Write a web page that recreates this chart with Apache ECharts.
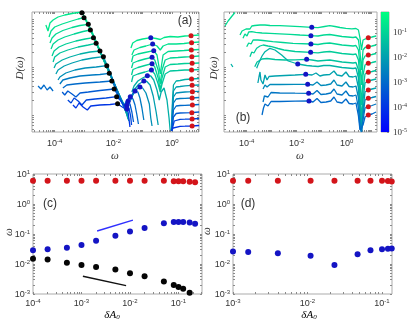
<!DOCTYPE html>
<html>
<head>
<meta charset="utf-8">
<script src="https://cdn.jsdelivr.net/npm/echarts@6/dist/echarts.min.js"></script>
<style>
html, body { margin: 0; padding: 0; background: #fff; }
#main { width: 415px; height: 323px; }
</style>
</head>
<body>
<div id="main"></div>
<script>
// ---- panel (a): spectra D(omega), [omega, level]; level = log D with a per-curve offset (no units shown)
var specA0 = [[5.0e-5,10.7],[5.9e-5,10.1],[6.9e-5,10.9],[8.8e-5,11.2],[1.3e-4,11.5],[2.2e-4,11.7],[3.9e-4,11.85],[6.3e-4,11.95],[8.5e-4,11.93],[1.2e-3,11.2],[1.6e-3,10.3],[2.6e-3,9.0],[4.5e-3,7.4],[7.8e-3,5.8],[1.35e-2,4.2],[2.0e-2,3.1],[2.7e-2,2.1],null,[4.0e-2,8.4],[4.6e-2,8.9],[6.3e-2,9.15],[0.1,9.3],[0.19,9.43],[0.29,9.35],[0.40,9.25],[0.54,9.45],[0.87,9.55],[1.6,9.5],[2.8,9.6],[4.5,9.63],[8.5,9.7]];
var specA1 = [[6.4e-5,9.5],[7.5e-5,10.1],[1.0e-4,10.5],[1.8e-4,10.8],[3.3e-4,11.05],[6.3e-4,11.3],[1.0e-3,11.43],[1.4e-3,10.7],[2.0e-3,9.7],[3.5e-3,8.1],[6.1e-3,6.5],[1.05e-2,4.8],[1.7e-2,3.5],[2.5e-2,2.6],[2.9e-2,1.9],null,[4.3e-2,7.7],[5.1e-2,8.2],[8.1e-2,8.45],[0.13,8.6],[0.22,8.8],[0.31,8.6],[0.40,8.2],[0.50,8.6],[0.74,8.8],[1.4,8.8],[2.6,8.85],[4.6,8.93],[8.5,9.0]];
var specA2 = [[6.9e-5,8.9],[8.1e-5,9.4],[1.1e-4,9.8],[1.9e-4,10.15],[3.9e-4,10.45],[7.3e-4,10.65],[1.4e-3,10.77],[1.9e-3,10.0],[3.0e-3,8.6],[5.2e-3,7.0],[9.1e-3,5.3],[1.5e-2,3.8],[2.1e-2,2.8],[2.9e-2,1.8],null,[4.2e-2,7.0],[4.7e-2,7.6],[6.9e-2,7.8],[0.12,7.95],[0.24,8.13],[0.31,7.7],[0.40,5.8],[0.50,7.7],[0.74,8.05],[1.4,8.1],[2.6,8.15],[4.6,8.2],[8.5,8.25]];
var specA3 = [[7.5e-5,8.3],[8.8e-5,8.8],[1.3e-4,9.2],[2.2e-4,9.5],[4.6e-4,9.8],[9.3e-4,10.05],[1.65e-3,10.2],[2.4e-3,9.2],[3.8e-3,7.8],[6.6e-3,6.2],[1.15e-2,4.6],[1.7e-2,3.4],[2.5e-2,2.4],[3.2e-2,1.6],null,[4.2e-2,6.4],[4.7e-2,6.9],[6.9e-2,7.1],[0.12,7.3],[0.21,7.47],[0.26,7.2],[0.34,6.2],[0.40,4.8],[0.46,6.2],[0.59,7.2],[0.87,7.4],[1.6,7.45],[2.75,7.5],[4.6,7.53],[8.5,7.6]];
var specA4 = [[8.1e-5,7.6],[9.5e-5,8.1],[1.4e-4,8.5],[2.4e-4,8.8],[5.3e-4,9.1],[1.1e-3,9.3],[2.1e-3,9.43],[3.0e-3,8.5],[4.8e-3,7.1],[7.8e-3,5.8],[1.2e-2,4.3],[1.8e-2,3.2],[2.5e-2,2.4],[3.2e-2,1.5],null,[4.2e-2,5.7],[4.7e-2,6.25],[6.9e-2,6.45],[0.12,6.65],[0.21,6.83],[0.26,6.5],[0.34,5.4],[0.40,4.2],[0.46,5.4],[0.59,6.5],[0.87,6.75],[1.6,6.8],[2.75,6.85],[4.6,6.87],[8.5,6.9]];
var specA5 = [[8.8e-5,7.0],[1.0e-4,7.5],[1.5e-4,7.9],[2.8e-4,8.2],[6.3e-4,8.5],[1.4e-3,8.7],[2.6e-3,8.87],[3.8e-3,7.8],[5.7e-3,6.6],[9.1e-3,5.3],[1.35e-2,4.0],[2.0e-2,3.0],[2.7e-2,2.2],[3.2e-2,1.4],null,[4.2e-2,5.0],[4.7e-2,5.6],[6.9e-2,5.8],[0.12,6.0],[0.20,6.2],[0.26,5.8],[0.34,4.8],[0.40,4.0],[0.46,4.8],[0.59,5.8],[0.87,6.1],[1.6,6.15],[2.75,6.2],[4.6,6.2],[8.5,6.25]];
var specA6 = [[9.5e-5,6.4],[1.1e-4,6.8],[1.8e-4,7.2],[3.3e-4,7.5],[7.3e-4,7.8],[1.6e-3,8.0],[3.5e-3,8.1],[4.8e-3,7.2],[7.1e-3,6.1],[1.05e-2,4.9],[1.55e-2,3.7],[2.1e-2,2.8],[2.7e-2,2.0],[3.2e-2,1.3],null,[4.3e-2,4.0],[5.1e-2,4.6],[6.9e-2,5.1],[0.1,5.4],[0.145,5.63],[0.19,5.6],[0.24,5.2],[0.31,4.2],[0.37,3.2],[0.43,4.0],[0.54,4.4],[0.68,3.2],[0.80,1.4],[0.87,0.2],null,[0.97,0.1],[1.05,3.2],[1.13,4.7],[1.4,5.1],[1.9,5.15],[2.8,5.25],[4.6,5.3],[8.5,5.35]];
var specA7 = [[1.1e-4,5.8],[1.3e-4,6.2],[2.1e-4,6.6],[3.9e-4,6.9],[8.5e-4,7.2],[2.0e-3,7.4],[4.6e-3,7.53],[6.1e-3,6.7],[8.4e-3,5.7],[1.2e-2,4.4],[1.7e-2,3.4],[2.3e-2,2.6],[2.9e-2,1.8],[3.4e-2,1.1],null,[4.0e-2,3.2],[5.1e-2,4.2],[7.5e-2,4.8],[0.11,5.1],[0.14,5.05],[0.18,4.7],[0.23,3.6],[0.29,2.0],[0.34,0.7],null,[0.97,0.1],[1.05,2.7],[1.13,4.1],[1.4,4.5],[1.9,4.55],[2.8,4.62],[4.6,4.67],[8.5,4.7]];
var specA8 = [[1.3e-4,5.2],[1.5e-4,5.5],[2.4e-4,5.9],[4.9e-4,6.2],[1.1e-3,6.4],[2.6e-3,6.5],[6.0e-3,6.63],[7.8e-3,5.9],[1.05e-2,4.9],[1.5e-2,3.9],[2.0e-2,3.1],[2.5e-2,2.5],[2.9e-2,2.0],[3.7e-2,3.2],[5.1e-2,3.9],[6.4e-2,4.3],[8.1e-2,4.5],[0.1,4.4],[0.13,3.9],[0.17,2.8],[0.19,1.4],[0.21,0.6],null,[0.97,0.1],[1.05,2.2],[1.13,3.5],[1.4,3.9],[1.9,3.95],[2.8,4.0],[4.6,4.03],[8.5,4.07]];
var specA9 = [[1.5e-4,4.8],[1.9e-4,5.2],[3.3e-4,5.4],[7.3e-4,5.6],[1.9e-3,5.7],[3.5e-3,5.75],[7.3e-3,5.87],[9.8e-3,5.2],[1.35e-2,4.2],[1.8e-2,3.3],[2.3e-2,2.6],[2.7e-2,2.1],[3.4e-2,2.9],[4.3e-2,3.7],[5.5e-2,4.1],[6.9e-2,4.0],[8.1e-2,3.4],[9.5e-2,2.4],[0.11,1.2],null,[0.97,0.1],[1.05,1.7],[1.13,2.9],[1.4,3.3],[1.9,3.35],[2.8,3.37],[4.6,3.4],[8.5,3.45]];
var specA10 = [[2.7e-5,4.6],[3.4e-5,4.3],[4.3e-5,4.7],[5.5e-5,4.2],[6.9e-5,4.5],[8.8e-5,4.1],null,[1.9e-4,4.4],[2.6e-4,4.7],[4.9e-4,4.8],[1.1e-3,4.9],[3.5e-3,5.0],[8.9e-3,5.1],[1.15e-2,4.5],[1.55e-2,3.6],[2.0e-2,3.0],[2.3e-2,2.6],[2.9e-2,3.2],[3.8e-2,3.53],[4.7e-2,3.3],[5.5e-2,2.7],[6.4e-2,1.7],[7.2e-2,0.8],null,[0.97,0.1],[1.05,1.2],[1.13,2.2],[1.4,2.6],[1.9,2.65],[2.8,2.67],[4.6,2.7],[8.5,2.75]];
var specA11 = [[1.8e-4,4.0],[2.2e-4,3.7],[2.8e-4,4.1],[3.9e-4,3.8],[5.3e-4,3.5],[7.3e-4,3.9],[1.4e-3,4.0],[3.5e-3,4.15],[1.07e-2,4.3],[1.35e-2,3.8],[1.7e-2,3.3],[2.0e-2,2.9],[2.3e-2,2.6],[2.7e-2,2.9],[3.2e-2,3.07],[3.7e-2,2.8],[4.3e-2,2.0],[4.9e-2,1.0],null,[0.97,0.1],[1.05,0.7],[1.13,1.5],[1.4,1.85],[1.9,1.9],[2.8,1.92],[4.6,1.93],[8.5,2.0]];
var specA12 = [[2.8e-4,3.2],[3.6e-4,2.9],[4.6e-4,3.4],[6.3e-4,3.1],[8.5e-4,2.7],[1.2e-3,3.2],[2.4e-3,3.3],[5.7e-3,3.4],[1.3e-2,3.53],[1.7e-2,3.2],[2.1e-2,2.8],[2.5e-2,2.5],[2.9e-2,2.67],[3.4e-2,2.4],[3.9e-2,1.6],[4.2e-2,0.7],null,[0.97,0.1],[1.05,0.4],[1.2,1.1],[1.4,1.25],[1.9,1.27],[2.8,1.28],[4.6,1.3],[8.5,1.35]];
var specA13 = [[4.2e-4,2.7],[5.3e-4,2.4],[6.8e-4,2.9],[9.3e-4,2.5],[1.3e-3,2.2],[1.7e-3,2.6],[3.5e-3,2.7],[7.8e-3,2.75],[1.4e-2,2.83],[1.8e-2,2.6],[2.3e-2,2.4],[2.9e-2,2.3],[3.2e-2,2.0],[3.4e-2,1.4],[3.7e-2,0.5],null,[0.97,0.1],[1.1,0.4],[1.28,0.55],[1.9,0.57],[2.8,0.58],[4.6,0.6],[8.5,0.65]];

var blackA = [[8.5e-4,11.93],[1.0e-3,11.43],[1.4e-3,10.77],[1.65e-3,10.2],[2.1e-3,9.43],[2.6e-3,8.87],[3.5e-3,8.1],[4.6e-3,7.53],[6.0e-3,6.63],[7.3e-3,5.87],[8.9e-3,5.1],[1.07e-2,4.3],[1.3e-2,3.53],[1.4e-2,2.83]];
var blueA = [[0.19,9.43],[0.22,8.8],[0.24,8.13],[0.21,7.47],[0.21,6.83],[0.20,6.2],[0.145,5.63],[0.11,5.1],[0.081,4.5],[0.055,4.1],[0.038,3.53],[0.032,3.07],[0.029,2.67],[0.029,2.3]];
var redA = [[4.5,9.63],[4.7,8.93],[4.6,8.2],[4.8,7.53],[4.9,6.87],[4.7,6.2],[4.7,5.3],[4.9,4.67],[5.0,4.03],[4.9,3.4],[5.0,2.7],[4.8,1.93],[4.9,1.3],[4.9,0.6]];

// ---- panel (b)
var specB0 = [[1.35e-5,10.6],[1.8e-5,11.1],[2.6e-5,11.6],[3.4e-5,11.95],null,[5.4e-5,9.7],[6.5e-5,10.1],[7.8e-5,9.9],[9.4e-5,10.3],[1.1e-4,10.5],[1.35e-4,10.3],[1.6e-4,10.6],[2.1e-4,10.65],[3.4e-4,10.7],[5.4e-4,10.7],[8.5e-4,10.65],[2.1e-3,10.63],[5.4e-3,10.58],[1.35e-2,10.53],[4.0e-2,10.47],[7.1e-2,10.43],[0.13,10.55],[0.21,10.63],[0.34,10.55],[0.54,10.45],[0.93,10.37],[1.6,10.32],[2.35,10.35],[2.95,10.2],[3.4,9.4],[3.9,8.2],[4.5,9.2],[5.4,9.35],[7.3,9.43],[10.3,9.5],[15,9.6]];
var specB1 = [[7.1e-5,9.37],[8.5e-5,9.8],[1.03e-4,9.6],[1.2e-4,10.0],[1.6e-4,10.03],[2.3e-4,9.97],[4.1e-4,9.9],[8.5e-4,9.87],[2.1e-3,9.82],[5.4e-3,9.77],[1.35e-2,9.7],[3.7e-2,9.63],[7.1e-2,9.6],[0.12,9.7],[0.21,9.75],[0.37,9.65],[0.65,9.55],[1.1,9.5],[1.8,9.45],[2.35,9.5],[2.95,9.2],[3.4,8.0],[3.9,6.2],[4.5,8.2],[5.4,8.45],[7.3,8.53],[10.3,8.6],[15,8.7]];
var specB2 = [[1.0e-4,8.53],[1.2e-4,8.9],[1.5e-4,8.8],[1.8e-4,9.2],[2.8e-4,9.2],[4.5e-4,9.15],[1.1e-3,9.03],[2.8e-3,8.95],[7.1e-3,8.87],[3.7e-2,8.8],[7.1e-2,8.75],[0.12,8.85],[0.21,8.9],[0.37,8.8],[0.65,8.7],[1.1,8.65],[1.8,8.6],[2.35,8.65],[2.95,8.2],[3.4,6.7],[3.9,4.7],[4.5,7.2],[5.4,7.6],[7.3,7.7],[10.3,7.75],[15,7.85]];
var specB3 = [[1.35e-4,7.53],[1.6e-4,8.0],[1.95e-4,7.9],[2.5e-4,8.37],[3.4e-4,8.6],[4.6e-4,8.7],[7.1e-4,8.6],[1.0e-3,8.53],[1.8e-3,8.35],[3.1e-3,8.2],[8.6e-3,8.05],[3.6e-2,7.97],[7.1e-2,7.92],[0.12,8.0],[0.21,8.05],[0.37,7.95],[0.65,7.85],[1.1,7.8],[1.8,7.75],[2.35,7.8],[2.95,7.2],[3.4,5.2],[3.9,2.7],[4.5,5.7],[5.4,6.7],[7.3,6.87],[10.3,6.95],[15,7.05]];
var specB4 = [[2.1e-4,6.53],[2.6e-4,7.0],[3.1e-4,6.9],[4.1e-4,7.3],[6.5e-4,7.35],[1.35e-3,7.25],[3.4e-3,7.2],[8.6e-3,7.22],[2.5e-2,7.27],[4.1e-2,7.2],[7.1e-2,7.1],[0.12,7.15],[0.21,7.2],[0.37,7.1],[0.65,7.0],[1.1,6.95],[1.8,6.9],[2.35,6.95],[2.95,6.2],[3.4,3.7],[3.9,1.2],[4.5,4.2],[5.4,5.8],[7.3,5.97],[10.3,6.05],[15,6.15]];
var specB5 = [[2.35e-5,6.8],[2.8e-5,6.5],null,[2.5e-4,6.37],[2.8e-4,6.7],[3.2e-4,7.03],[4.1e-4,7.6],[5.4e-4,8.03],[8.5e-4,8.37],[1.35e-3,8.2],[2.5e-3,7.7],[4.6e-3,7.1],[1.1e-2,6.8],[2.5e-2,6.65],[4.1e-2,6.6],[7.1e-2,6.55],[0.12,6.65],[0.21,6.65],[0.37,6.55],[0.65,6.45],[1.1,6.4],[1.8,6.35],[2.35,6.4],[2.95,5.4],[3.4,2.7],[3.9,0.4],[4.5,3.2],[5.4,4.9],[7.3,5.1],[10.3,5.2],[15,5.3]];
var specB6 = [[2.8e-4,4.9],[3.1e-4,5.5],[3.4e-4,6.0],[3.7e-4,5.2],[4.5e-4,4.8],[5.4e-4,5.7],[6.5e-4,5.2],[7.8e-4,5.55],[1.35e-3,5.6],[3.4e-3,5.65],[8.6e-3,5.7],[2.3e-2,5.77],[4.1e-2,5.7],[5.9e-2,5.9],[8.5e-2,5.6],[0.12,5.7],[0.21,5.75],[0.31,6.1],[0.41,5.7],[0.65,5.6],[0.93,6.0],[1.25,5.55],[1.8,5.5],[2.35,5.6],[2.95,4.4],[3.4,1.7],[3.9,0.1],[4.5,2.2],[5.4,4.0],[7.3,4.2],[10.3,4.3],[15,4.4]];
var specB7 = [[4.5e-4,4.3],[5.4e-4,4.7],[6.5e-4,4.5],[8.5e-4,4.75],[2.1e-3,4.75],[8.6e-3,4.77],[2.75e-2,4.77],[4.5e-2,4.7],[6.5e-2,5.0],[9.3e-2,4.65],[0.15,4.7],[0.23,4.8],[0.31,5.2],[0.41,4.7],[0.65,4.6],[0.93,5.0],[1.25,4.55],[1.8,4.5],[2.35,4.6],[2.95,3.4],[3.4,1.0],[3.9,0.0],[4.5,1.7],[5.4,3.2],[7.3,3.37],[10.3,3.45],[15,3.55]];
var specB8 = [[4.5e-4,3.0],[5.1e-4,3.6],[5.9e-4,3.8],[7.1e-4,3.5],[9.4e-4,3.95],[2.1e-3,3.9],[8.6e-3,3.88],[3.0e-2,3.87],[4.5e-2,3.8],[6.5e-2,4.15],[9.3e-2,3.75],[0.15,3.8],[0.23,3.9],[0.31,4.3],[0.41,3.8],[0.65,3.7],[0.93,4.1],[1.25,3.65],[1.8,3.6],[2.35,3.7],[2.95,2.4],[3.4,0.4],[3.9,0.0],[4.5,1.2],[5.4,2.4],[7.3,2.53],[10.3,2.65],[15,2.8]];
var specB9 = [[4.1e-4,1.7],[4.7e-4,2.4],[5.4e-4,2.8],[7.1e-4,2.6],[9.4e-4,3.05],[2.1e-3,3.05],[8.6e-3,3.08],[3.1e-2,3.1],[4.5e-2,3.0],[6.5e-2,3.35],[9.3e-2,2.95],[0.15,3.0],[0.23,3.1],[0.31,3.5],[0.41,3.0],[0.65,2.9],[0.93,3.3],[1.25,2.85],[1.8,2.8],[2.35,2.9],[2.95,1.6],[3.4,0.2],[3.9,0.0],[4.5,0.7],[5.4,1.5],[7.3,1.7],[10.3,1.8],[15,2.0]];

var blueB = [[4.0e-2,10.47],[3.7e-2,9.63],[3.7e-2,8.8],[3.6e-2,7.97],[2.5e-2,7.27],[1.1e-2,6.8],[2.3e-2,5.77],[2.75e-2,4.77],[3.0e-2,3.87],[3.1e-2,3.1]];
var redB = [[7.3,9.43],[7.3,8.53],[7.3,7.7],[7.3,6.87],[7.3,5.97],[7.3,5.1],[7.3,4.2],[7.3,3.37],[7.3,2.53],[7.3,1.7]];

// ---- panels (c), (d): peak frequencies vs dA0
var dA_c = [1e-4,2e-4,5e-4,1e-3,2e-3,5e-3,1e-2,2e-2,5e-2,0.08,0.1,0.125,0.17,0.22];
var redC = [5.9,5.9,5.9,5.9,5.9,5.9,5.9,5.9,5.9,5.7,5.7,5.7,5.5,5.3];
var blueC = [0.029,0.031,0.035,0.043,0.06,0.087,0.12,0.16,0.23,0.25,0.25,0.25,0.24,0.22];
var blackC = [0.015,0.014,0.011,0.0093,0.008,0.0065,0.0049,0.0039,0.0026,0.002,0.0017,0.0015,0.0011];
var blueLineC = [[2.1e-3,0.126],[1.15e-2,0.29]];
var blackLineC = [[1.07e-3,0.0039],[8.3e-3,0.0019]];

var dA_d = [1e-3,1.6e-3,4e-3,1.1e-2,2.3e-2,4.7e-2,7e-2,0.1,0.12,0.135];
var redD = [5.9,5.9,5.9,5.9,5.9,5.9,5.9,5.9,5.8,5.6];
var blueD = [0.026,0.025,0.023,0.019,0.0093,0.021,0.029,0.031,0.032,0.033];

var cbLabels = [-5,-4,-3,-2,-1];

// ---------------------------------------------------------------
var lg = Math.log10;
function L(pts) {
    return pts.map(function (p) { return p ? [lg(p[0]), p[1]] : ['-', '-']; });
}
function LL(xs, ys) {
    return ys.map(function (y, i) { return [lg(xs[i]), lg(y)]; });
}
function winter(d) {
    var t = Math.max(0, Math.min(1, (lg(d) + 5) / 4.8));
    return 'rgb(0,' + Math.round(255 * t) + ',' + Math.round(255 * (1 - t / 2)) + ')';
}
function decadeTicks(lo, hi) {
    var t = [];
    for (var d = Math.floor(lo); d <= Math.ceil(hi); d++) {
        for (var k = 1; k <= 9; k++) {
            var v = d + lg(k);
            if (v >= lo - 1e-9 && v <= hi + 1e-9) t.push(v);
        }
    }
    return t;
}
function levelTicks() {
    var t = [];
    for (var j = -1; j <= 2; j++) {
        for (var k = 1; k <= 9; k++) {
            var v = 1.7 + 4.8 * (j + lg(k));
            if (v >= 0 && v <= 12) t.push(v);
        }
    }
    return t;
}

var tickColor = '#8a8a8a';
var sansRich = {
    b: {fontSize: 9, fontFamily: 'Liberation Sans', color: '#333', lineHeight: 10, padding: [3, 0, 0, 0], verticalAlign: 'bottom'},
    s: {fontSize: 6, fontFamily: 'Liberation Sans', color: '#333', lineHeight: 7, verticalAlign: 'top'}
};
var serifRich = {
    b: {fontSize: 9, fontFamily: 'Liberation Serif', color: '#333', lineHeight: 10, padding: [3, 0, 0, 0], verticalAlign: 'bottom'},
    s: {fontSize: 6, fontFamily: 'Liberation Serif', color: '#333', lineHeight: 7, verticalAlign: 'top'}
};
function pow10(v) { return '{b|10}{s|' + Math.round(v) + '}'; }

function axisPair(dim, g, min, max, ticks, labels, margin) {
    var base = {type: 'value', gridIndex: g, min: min, max: max,
        axisLine: {show: false, onZero: false}, splitLine: {show: false}};
    var first = Object.assign({}, base, {
        position: dim === 'x' ? 'bottom' : 'left',
        axisTick: {inside: true, length: 2, customValues: ticks, lineStyle: {color: tickColor}},
        axisLabel: labels.length ? {customValues: labels, formatter: pow10, rich: sansRich, margin: margin} : {show: false}
    });
    var second = Object.assign({}, base, {
        position: dim === 'x' ? 'top' : 'right',
        axisTick: {inside: true, length: 2, customValues: ticks, lineStyle: {color: tickColor}},
        axisLabel: {show: false}
    });
    return [first, second];
}

var xA = [-4.775, 0.925], xB = [-4.908, 1.212], xC = [-4, -0.515], xD = [-3, -0.866];

var xAxes = [].concat(
    axisPair('x', 0, xA[0], xA[1], decadeTicks(xA[0], xA[1]), [-4, -2, 0], 6),
    axisPair('x', 1, xB[0], xB[1], decadeTicks(xB[0], xB[1]), [-4, -2, 0], 6),
    axisPair('x', 2, xC[0], xC[1], decadeTicks(xC[0], xC[1]), [-4, -3, -2, -1], 4),
    axisPair('x', 3, xD[0], xD[1], decadeTicks(xD[0], xD[1]), [-3, -2, -1], 4),
    [{type: 'value', gridIndex: 4, show: false, min: 0, max: 1}]
);
var yAxes = [].concat(
    axisPair('y', 0, 0, 12, levelTicks(), [], 3),
    axisPair('y', 1, 0, 12, levelTicks(), [], 3),
    axisPair('y', 2, -3, 1, decadeTicks(-3, 1), [-3, -2, -1, 0, 1], 3),
    axisPair('y', 3, -3, 1, decadeTicks(-3, 1), [-3, -2, -1, 0, 1], 3),
    [{type: 'value', gridIndex: 4, position: 'right', min: -5, max: -0.2,
      axisLine: {show: false, onZero: false}, splitLine: {show: false},
      axisTick: {inside: true, length: 2, customValues: cbLabels, lineStyle: {color: tickColor}},
      axisLabel: {customValues: cbLabels, formatter: pow10, rich: serifRich, margin: 4}}]
);

var series = [];
var curvesA = [specA0, specA1, specA2, specA3, specA4, specA5, specA6, specA7, specA8, specA9, specA10, specA11, specA12, specA13];
curvesA.forEach(function (c, i) {
    series.push({type: 'line', xAxisIndex: 0, yAxisIndex: 0, data: L(c), symbol: 'none', connectNulls: false,
        lineStyle: {width: 1.3, color: winter(dA_c[dA_c.length - 1 - i])}, z: 2});
});
var curvesB = [specB0, specB1, specB2, specB3, specB4, specB5, specB6, specB7, specB8, specB9];
curvesB.forEach(function (c, i) {
    series.push({type: 'line', xAxisIndex: 2, yAxisIndex: 2, data: L(c), symbol: 'none', connectNulls: false,
        lineStyle: {width: 1.3, color: winter(dA_d[dA_d.length - 1 - i])}, z: 2});
});

var cBlack = '#050505', cBlue = '#1414c4', cRed = '#d3141a';
function dots(xi, data, color, size) {
    return {type: 'scatter', xAxisIndex: xi, yAxisIndex: xi, data: data, symbolSize: size,
        itemStyle: {color: color, opacity: 1}, z: 5};
}
series.push(dots(0, L(blackA), cBlack, 5));
series.push(dots(0, L(blueA), cBlue, 5));
series.push(dots(0, L(redA), cRed, 5));
series.push(dots(2, L(blueB), cBlue, 5));
series.push(dots(2, L(redB), cRed, 5));

series.push({type: 'line', xAxisIndex: 4, yAxisIndex: 4, data: LL(blueLineC.map(function (p) { return p[0]; }), blueLineC.map(function (p) { return p[1]; })),
    symbol: 'none', lineStyle: {width: 1.5, color: '#3030ff'}, z: 3});
series.push({type: 'line', xAxisIndex: 4, yAxisIndex: 4, data: LL(blackLineC.map(function (p) { return p[0]; }), blackLineC.map(function (p) { return p[1]; })),
    symbol: 'none', lineStyle: {width: 1.5, color: '#111'}, z: 3});
series.push(dots(4, LL(dA_c, redC), cRed, 6));
series.push(dots(4, LL(dA_c, blueC), cBlue, 6));
series.push(dots(4, LL(dA_c.slice(0, blackC.length), blackC), cBlack, 6));
series.push(dots(6, LL(dA_d, redD), cRed, 6));
series.push(dots(6, LL(dA_d, blueD), cBlue, 6));

var gridStyle = {show: true, borderColor: '#ababab', borderWidth: 1, backgroundColor: 'transparent'};
function grid(l, t, w, h) { return Object.assign({left: l, top: t, width: w, height: h}, gridStyle); }

var txt = '#333';
function label(x, y, text, font, rot) {
    return {type: 'text', x: x, y: y, rotation: rot || 0, z: 10,
        style: {text: text, font: font, fill: txt, align: 'center', verticalAlign: 'middle'}};
}
var mathRich = {
    i: {fontSize: 11, fontStyle: 'italic', fontFamily: 'Liberation Serif', color: txt},
    sub: {fontSize: 7, fontStyle: 'italic', fontFamily: 'Liberation Serif', color: txt, verticalAlign: 'bottom', lineHeight: 8}
};
function dLabel(x, y) {
    return {type: 'text', x: x, y: y, z: 10,
        style: {text: '{i|δA}{sub|0}', rich: mathRich, align: 'center', verticalAlign: 'middle'}};
}

var myChart = echarts.init(document.getElementById('main'), null, {renderer: 'canvas'});
myChart.setOption({
    animation: false,
    backgroundColor: '#fff',
    grid: [grid(32, 12, 167, 120), grid(224, 12, 153, 120), grid(33, 174, 169, 120), grid(233, 174, 159, 120), grid(381, 12, 8, 120)],
    xAxis: xAxes,
    yAxis: yAxes,
    series: series,
    graphic: [
        {type: 'rect', z: 1, shape: {x: 381, y: 12, width: 8, height: 120},
         style: {fill: new echarts.graphic.LinearGradient(0, 1, 0, 0, [{offset: 0, color: '#0000ff'}, {offset: 1, color: '#00ff80'}])}},
        label(185, 21, '(a)', '12px "Liberation Sans"'),
        label(243, 118, '(b)', '12px "Liberation Sans"'),
        label(50, 204, '(c)', '12px "Liberation Sans"'),
        label(248, 204, '(d)', '12px "Liberation Sans"'),
        label(20, 68, 'D(ω)', 'italic 11px "Liberation Serif"', Math.PI / 2),
        label(214, 68, 'D(ω)', 'italic 11px "Liberation Serif"', Math.PI / 2),
        label(115, 156, 'ω', 'italic 11px "Liberation Serif"'),
        label(300, 156, 'ω', 'italic 11px "Liberation Serif"'),
        label(9, 232, 'ω', 'italic 11px "Liberation Serif"', Math.PI / 2),
        label(207, 231, 'ω', 'italic 11px "Liberation Serif"', Math.PI / 2),
        dLabel(112, 315),
        dLabel(309, 315)
    ]
});
</script>
</body>
</html>
